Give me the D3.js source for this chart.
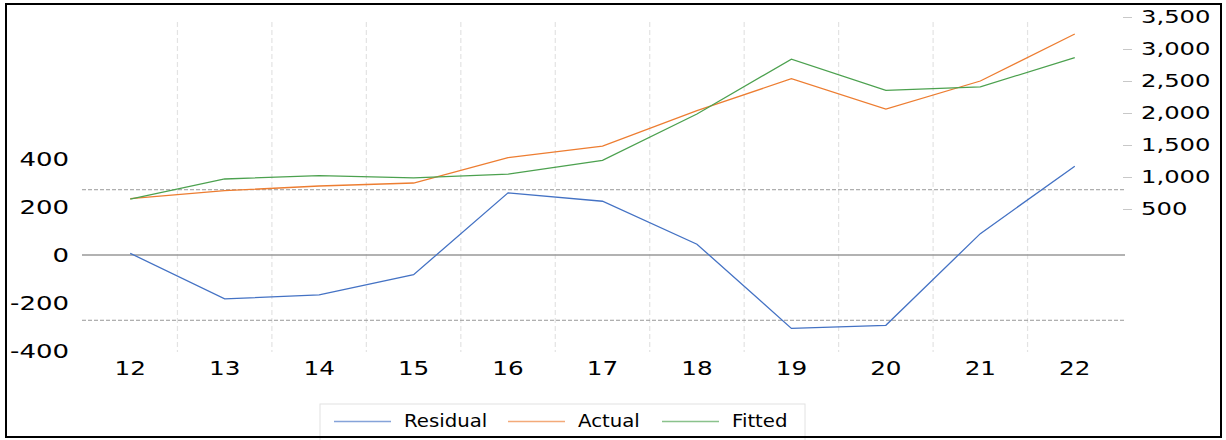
<!DOCTYPE html>
<html>
<head>
<meta charset="utf-8">
<script src="https://cdn.jsdelivr.net/npm/d3@7"></script>
<style>
  body { margin: 0; background: #fff; }
  svg text { font-family: "DejaVu Sans", sans-serif; fill: #000; }
</style>
</head>
<body>
<div id="chart-container"></div>
<script>
const width = 1226;
const height = 440;

// data
const years = ["12", "13", "14", "15", "16", "17", "18", "19", "20", "21", "22"];
const residual = [7, -183, -166, -82, 259, 224, 45, -306, -293, 89, 370];
const actual = [661, 786, 859, 906, 1302, 1484, 2036, 2536, 2062, 2500, 3234];
const fitted = [654, 969, 1020, 985, 1045, 1261, 1985, 2840, 2355, 2408, 2866];
const seBand = 272;   // +/- 1 S.E. band on the residual
const leftTicks = [-400, -200, 0, 200, 400];
const rightTicks = [500, 1000, 1500, 2000, 2500, 3000, 3500];
const seriesNames = ["Residual", "Actual", "Fitted"];
const colors = ["#4472C4", "#ED7D31", "#4CA14F"];

const plotLeft = 83, plotRight = 1122, plotTop = 22, plotBottom = 352;

const svg = d3.select("#chart-container")
    .append("svg")
    .attr("width", width)
    .attr("height", height);

const x = d3.scaleBand().domain(years).range([plotLeft, plotRight]);
const xc = d => x(d) + x.bandwidth() / 2;

const yL = d3.scaleLinear().domain([-400, 400]).range([351, 159]);
const yR = d3.scaleLinear().domain([500, 3500]).range([209, 17]);

// vertical gridlines between categories
svg.append("g")
    .selectAll("line")
    .data(years.slice(1))
    .join("line")
    .attr("x1", d => x(d)).attr("x2", d => x(d))
    .attr("y1", plotTop).attr("y2", plotBottom)
    .attr("stroke", "#e3e3e3")
    .attr("stroke-width", 1.2)
    .attr("stroke-dasharray", "5,3");

// zero line and +/- S.E. lines
svg.append("line")
    .attr("x1", plotLeft - 1).attr("x2", 1125)
    .attr("y1", yL(0)).attr("y2", yL(0))
    .attr("stroke", "#999")
    .attr("stroke-width", 1.5);

svg.append("g")
    .selectAll("line")
    .data([seBand, -seBand])
    .join("line")
    .attr("x1", plotLeft - 1).attr("x2", 1125)
    .attr("y1", d => yL(d)).attr("y2", d => yL(d))
    .attr("stroke", "#999")
    .attr("stroke-width", 1)
    .attr("stroke-dasharray", "4,2");

// axes
const leftAxis = svg.append("g")
    .attr("transform", `translate(${plotLeft - 1},0)`)
    .call(d3.axisLeft(yL).tickValues(leftTicks).tickSize(0).tickPadding(13).tickFormat(d => String(d)));
leftAxis.select(".domain").remove();
leftAxis.selectAll("text")
    .attr("font-size", "20px")
    .attr("font-family", "DejaVu Sans")
    .attr("x", -13 / 1.3)
    .attr("transform", "scale(1.3,1)");

const rightAxis = svg.append("g")
    .attr("transform", "translate(1123,0)")
    .call(d3.axisRight(yR).tickValues(rightTicks).tickSize(9).tickPadding(9).tickFormat(d3.format(",")));
rightAxis.select(".domain").remove();
rightAxis.selectAll("line").attr("stroke", "#c8c8c8");
rightAxis.selectAll("text")
    .attr("font-size", "18px")
    .attr("font-family", "DejaVu Sans")
    .attr("x", 18 / 1.35)
    .attr("transform", "scale(1.35,1)");

const xAxis = svg.append("g")
    .attr("transform", `translate(0,${plotBottom})`)
    .call(d3.axisBottom(x).tickSize(0).tickPadding(10));
xAxis.select(".domain").remove();
xAxis.selectAll("text")
    .attr("font-size", "19px")
    .attr("font-family", "DejaVu Sans")
    .attr("transform", "scale(1.3,1)");

// series
const lineL = d3.line().x((d, i) => xc(years[i])).y(d => yL(d));
const lineR = d3.line().x((d, i) => xc(years[i])).y(d => yR(d));

svg.append("path").datum(residual)
    .attr("d", lineL).attr("fill", "none")
    .attr("stroke", colors[0]).attr("stroke-width", 1.3);
svg.append("path").datum(actual)
    .attr("d", lineR).attr("fill", "none")
    .attr("stroke", colors[1]).attr("stroke-width", 1.3);
svg.append("path").datum(fitted)
    .attr("d", lineR).attr("fill", "none")
    .attr("stroke", colors[2]).attr("stroke-width", 1.3);

// legend
const legend = svg.append("g");
legend.append("rect")
    .attr("x", 320).attr("y", 404)
    .attr("width", 485).attr("height", 40)
    .attr("fill", "#fff")
    .attr("stroke", "#e2e2e2");
const legendX = [334, 508, 662];
seriesNames.forEach((name, i) => {
    legend.append("line")
        .attr("x1", legendX[i]).attr("x2", legendX[i] + 57)
        .attr("y1", 421.5).attr("y2", 421.5)
        .attr("stroke", colors[i])
        .attr("stroke-opacity", 0.65)
        .attr("stroke-width", 1.5);
    legend.append("text")
        .attr("transform", `translate(${legendX[i] + 70},427) scale(1.16,1)`)
        .attr("font-size", "17px")
        .text(name);
});

// outer frame on top so the legend box sits under it
svg.append("rect")
    .attr("x", 6).attr("y", 4)
    .attr("width", 1215).attr("height", 433)
    .attr("fill", "none")
    .attr("stroke", "#000")
    .attr("stroke-width", 2);
</script>
</body>
</html>
